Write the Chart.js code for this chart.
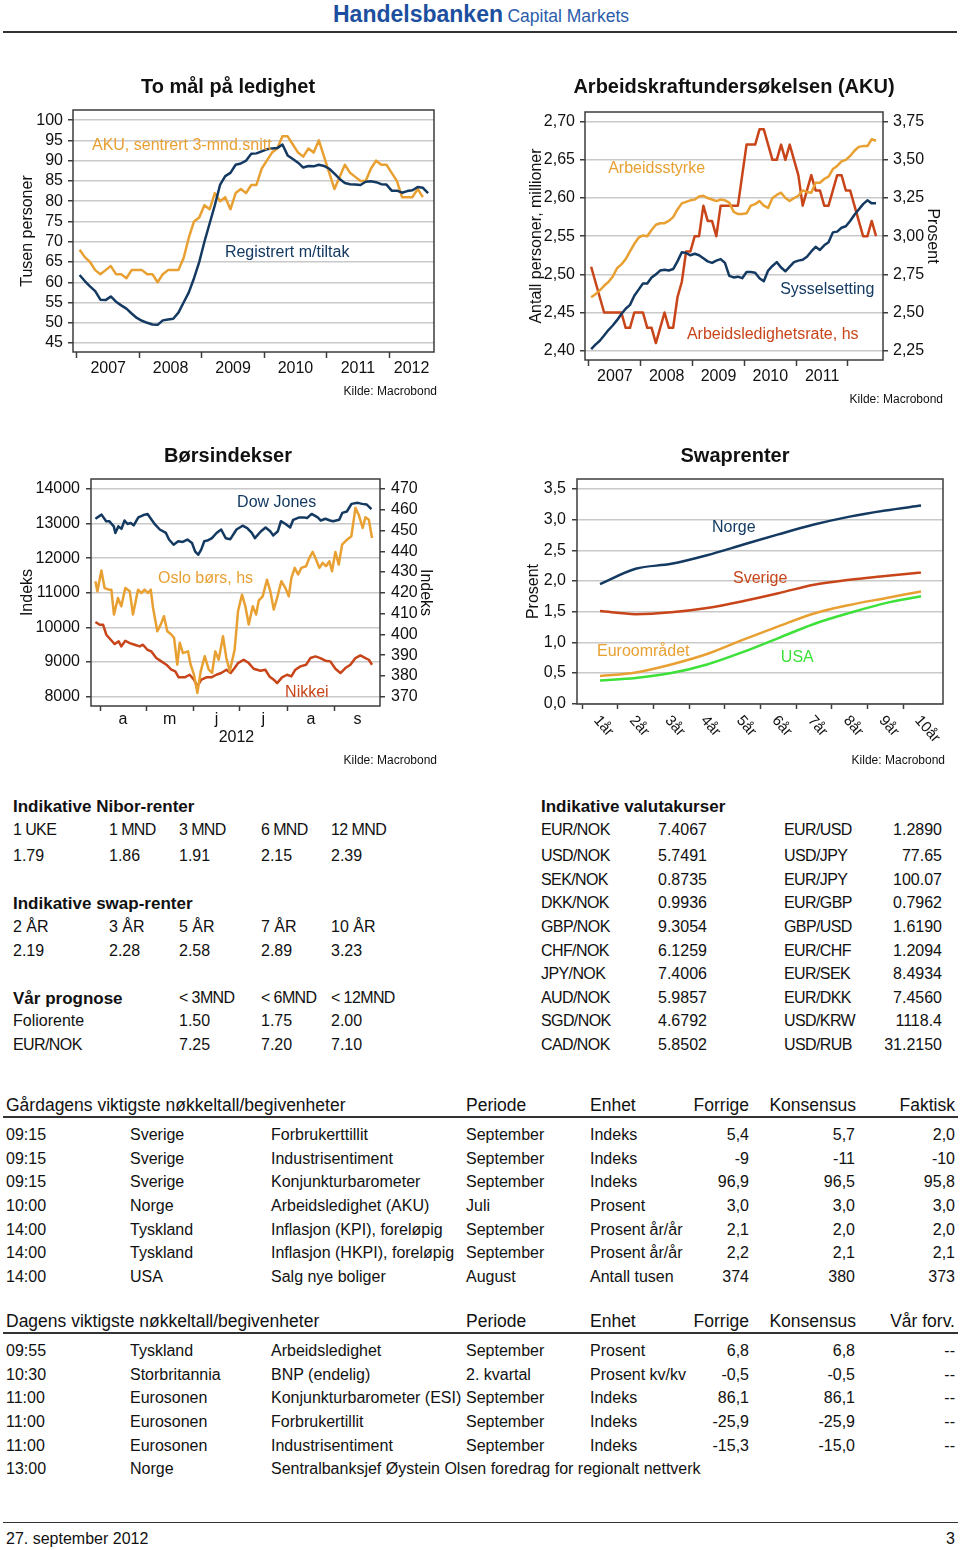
<!DOCTYPE html>
<html>
<head>
<meta charset="utf-8">
<script src="https://cdn.jsdelivr.net/npm/chart.js@4.4.1/dist/chart.umd.min.js"></script>
<style>
  html, body { margin: 0; padding: 0; background: #fff; }
  body { width: 960px; height: 1550px; position: relative; overflow: hidden;
         font-family: "Liberation Sans", Arial, sans-serif; color: #111; }
  .t { position: absolute; white-space: nowrap; line-height: 1; transform: translateY(-50%); }
  .r { transform: translate(-100%, -50%); }
  .c { transform: translate(-50%, -50%); }
  .hr { position: absolute; height: 0; }
  canvas { position: absolute; }
</style>
</head>
<body>
<canvas id="c1" width="480" height="330" style="left:0;top:80px"></canvas>
<canvas id="c2" width="480" height="330" style="left:480px;top:80px"></canvas>
<canvas id="c3" width="480" height="330" style="left:0;top:450px"></canvas>
<canvas id="c4" width="480" height="330" style="left:480px;top:450px"></canvas>

<script>
// ---- chart 1: To mål på ledighet (monthly from Jan 2007)
const registrert = [61.8, 60.3, 59, 57.8, 55.7, 55.6, 56.5, 55.2, 54.3, 53.5, 52.3, 51.2,
  50.5, 50, 49.6, 49.5, 50.6, 50.8, 51, 52.5, 55, 57.5, 61, 65,
  70, 74.5, 79, 84, 86.2, 87, 89, 89.3, 90, 91.7, 91.8, 92.3,
  92.8, 93, 93.1, 94, 91.3, 90.4, 89.5, 88.3, 88.7, 88.6, 89, 88.7,
  88, 86.8, 85.5, 84.5, 84.2, 84.1, 84, 84.8, 84.9, 84.7, 84.2, 84.1,
  82.6, 82.6, 82.1, 82.5, 82.7, 83.5, 83.3, 82];
const aku = [68, 66.2, 65, 63, 62, 63, 64, 62, 62, 61, 63, 63,
  63, 62, 62, 60, 62, 63, 63, 63, 66, 71, 75, 76,
  79, 78, 82, 80, 81, 78, 82, 83, 82, 84, 84, 88,
  90, 92, 93, 96, 96, 94, 92, 91, 93, 92, 95, 91,
  87, 83, 86, 89, 87, 86, 85, 85, 88, 90, 89, 89,
  87, 85, 81, 81, 81, 83, 81];
const yTicks1 = [45, 50, 55, 60, 65, 70, 75, 80, 85, 90, 95, 100];

// ---- chart 2: Arbeidskraftundersøkelsen (monthly from Jan 2007)
const arbeidsstyrke = [2.470, 2.474, 2.479, 2.485, 2.490, 2.497, 2.508, 2.513, 2.520, 2.530, 2.540, 2.548,
  2.551, 2.550, 2.558, 2.565, 2.567, 2.567, 2.570, 2.575, 2.585, 2.593, 2.595, 2.597,
  2.598, 2.602, 2.603, 2.600, 2.598, 2.596, 2.598, 2.597, 2.594, 2.582, 2.579, 2.579,
  2.580, 2.590, 2.592, 2.596, 2.590, 2.587, 2.600, 2.604, 2.607, 2.600, 2.596, 2.600,
  2.603, 2.610, 2.608, 2.607, 2.620, 2.620, 2.625, 2.628, 2.638, 2.642, 2.648, 2.650,
  2.655, 2.662, 2.667, 2.668, 2.668, 2.677, 2.675];
const sysselsetting = [2.402, 2.408, 2.413, 2.420, 2.427, 2.433, 2.440, 2.448, 2.455, 2.460, 2.472, 2.480,
  2.488, 2.488, 2.496, 2.500, 2.505, 2.506, 2.505, 2.507, 2.517, 2.529, 2.528, 2.525,
  2.527, 2.525, 2.521, 2.517, 2.515, 2.518, 2.520, 2.515, 2.498, 2.496, 2.497, 2.495,
  2.503, 2.503, 2.502, 2.495, 2.491, 2.505, 2.511, 2.516, 2.509, 2.504, 2.510, 2.516,
  2.518, 2.519, 2.523, 2.530, 2.536, 2.532, 2.538, 2.542, 2.555, 2.556, 2.561, 2.563,
  2.570, 2.578, 2.585, 2.592, 2.597, 2.593, 2.593];
const ledighetsrate = [2.8, 2.7, 2.6, 2.5, 2.5, 2.5, 2.5, 2.5, 2.4, 2.4, 2.5, 2.5,
  2.5, 2.4, 2.4, 2.3, 2.4, 2.5, 2.4, 2.4, 2.6, 2.7, 2.9, 2.9,
  3.0, 3.0, 3.2, 3.1, 3.1, 3.0, 3.2, 3.2, 3.2, 3.2, 3.2, 3.4,
  3.6, 3.6, 3.6, 3.7, 3.7, 3.6, 3.5, 3.5, 3.6, 3.5, 3.6, 3.5,
  3.4, 3.2, 3.3, 3.4, 3.3, 3.3, 3.2, 3.2, 3.3, 3.4, 3.4, 3.3,
  3.3, 3.2, 3.1, 3.0, 3.0, 3.1, 3.0];
const yTicks2 = [2.40, 2.45, 2.50, 2.55, 2.60, 2.65, 2.70];
const yTicks2r = [2.25, 2.50, 2.75, 3.00, 3.25, 3.50, 3.75];

// ---- chart 3: Børsindekser (days counted from 1 April 2012)
const djDays = [-3, 1, 4, 6, 9, 10, 12, 14, 16, 18, 20, 22, 25, 28, 31, 34, 36, 39, 43, 45,
  48, 51, 54, 57, 60, 62, 64, 66, 68, 70, 73, 76, 79, 82, 85, 89, 93, 96, 99, 101,
  105, 108, 111, 113, 116, 118, 121, 124, 126, 130, 133, 135, 138, 142, 144, 147, 150, 152, 156, 158,
  161, 164, 168, 171, 174, 177];
const djVals = [13140, 13260, 13070, 13070, 12920, 12730, 12920, 12850, 13090, 12990, 13020, 12950, 13180, 13240, 13280, 13090, 12970, 12830, 12730, 12540,
  12390, 12490, 12470, 12540, 12440, 12200, 12100, 12250, 12490, 12510, 12580, 12730, 12830, 12580, 12550, 12830, 12940, 12870, 12730, 12580,
  12780, 12890, 12780, 12660, 12780, 13070, 12990, 12890, 13110, 13180, 13180, 13160, 13280, 13180, 13090, 13140, 13090, 13070, 13110, 13310,
  13350, 13570, 13600, 13570, 13550, 13420];
const osloDays = [-3, -1.7, 0.9, 3, 5.7, 7.4, 9.1, 11.7, 13.9, 16.5, 19.4, 21.5, 24.8, 27, 29.1, 31.3, 33.1, 34.6, 37.4, 39.6,
  41.7, 43.9, 46.5, 48.3, 50.4, 52, 54.1, 57.4, 59.1, 61.3, 63.5, 65.7, 68.3, 70.9, 73.1, 75.2, 77.4, 80.2, 82.4, 84.6,
  87.8, 90, 92.6, 94.8, 97, 99.6, 101.8, 103.5, 106.1, 108.9, 111.1, 113.3, 115.5, 118.3, 120.9, 123.1, 124.8, 127, 129.2, 131.3,
  134.4, 136.5, 138.7, 140.5, 143.1, 145.2, 147.4, 149.6, 151.3, 153.5, 155.7, 157.9, 161.1, 163.9, 166.6, 168.7, 171.3, 173.1, 175.3, 177.4];
const osloVals = [425.6, 420.7, 430.7, 422.3, 421.5, 421.5, 409.5, 417.5, 413.5, 422.3, 420.7, 409.5, 421.5, 419.9, 421.5, 419.9, 421.5, 412.7, 401.5, 404.7,
  408.7, 401.5, 399.9, 398.3, 385.4, 395.9, 391, 391.8, 385.4, 380.6, 371.8, 382.2, 389.5, 383, 381.4, 391.8, 387.8, 399.1, 388.6, 382.2,
  392.6, 411.1, 419.1, 413.5, 404.7, 413.5, 409.5, 416.2, 418.3, 426.3, 420.7, 411.9, 417.5, 425.6, 422.3, 418.3, 427.1, 432, 428.8, 432,
  432.8, 436.8, 439.7, 436.8, 432, 434.4, 432.8, 435.2, 430.4, 439.7, 433.6, 443.2, 445.6, 447.2, 460.9, 457.6, 451.2, 456.4, 455.2, 446.4];
const nikkeiDays = [-3, -0.2, 2, 4.1, 7, 9.6, 12.2, 13.9, 16.5, 19.4, 22.6, 25.9, 28, 30.9, 33.5, 36.7, 40, 43.3, 46.5, 49.1,
  51.3, 55.2, 58.5, 61.3, 63.5, 66.1, 69.4, 72.6, 75.9, 79.1, 82.4, 85.2, 87.8, 90, 93.7, 97, 100.2, 104.6, 107.8, 110.5,
  113.3, 115.5, 118.7, 122, 124.8, 127.4, 130.7, 134.4, 137.2, 140.5, 143.7, 147, 150.2, 153.5, 156.8, 160, 163.3, 166.6, 169.8, 173.1,
  175.3, 177.4];
const nikkeiVals = [10156, 10079, 10079, 9790, 9645, 9520, 9597, 9453, 9616, 9549, 9501, 9453, 9501, 9356, 9308, 9116, 9020, 8923, 8779, 8730,
  8558, 8558, 8634, 8490, 8298, 8490, 8558, 8558, 8634, 8683, 8779, 8683, 8827, 8971, 9067, 8971, 8808, 8750, 8779, 8586,
  8490, 8393, 8558, 8634, 8586, 8779, 8875, 8923, 9116, 9164, 9116, 9039, 9020, 8808, 8683, 8827, 8923, 9116, 9193, 9116,
  9067, 8923];
const monthStarts = [0, 30, 61, 91, 122, 153];
const monthMids = [15, 45.5, 76, 106.5, 137.5, 168];
const monthLabels = ['a', 'm', 'j', 'j', 'a', 's'];
const yTicks3 = [8000, 9000, 10000, 11000, 12000, 13000, 14000];
const yTicks3r = [370, 380, 390, 400, 410, 420, 430, 440, 450, 460, 470];

// ---- chart 4: Swaprenter
const tenors = ['1år', '2år', '3år', '4år', '5år', '6år', '7år', '8år', '9år', '10år'];
const norge = [1.95, 2.20, 2.28, 2.42, 2.59, 2.76, 2.92, 3.05, 3.15, 3.23];
const sverige = [1.51, 1.46, 1.49, 1.56, 1.67, 1.80, 1.94, 2.02, 2.08, 2.14];
const euro = [0.45, 0.51, 0.64, 0.81, 1.04, 1.26, 1.47, 1.61, 1.72, 1.83];
const usa = [0.38, 0.42, 0.50, 0.64, 0.84, 1.07, 1.30, 1.48, 1.64, 1.75];
const yTicks4 = [0, 0.5, 1, 1.5, 2, 2.5, 3, 3.5];

// ---- tables
const niborHead = ['1 UKE', '1 MND', '3 MND', '6 MND', '12 MND'];
const niborVals = ['1.79', '1.86', '1.91', '2.15', '2.39'];
const swapHead = ['2 ÅR', '3 ÅR', '5 ÅR', '7 ÅR', '10 ÅR'];
const swapVals = ['2.19', '2.28', '2.58', '2.89', '3.23'];
const progHead = ['< 3MND', '< 6MND', '< 12MND'];
const progRows = [['Foliorente', '1.50', '1.75', '2.00'], ['EUR/NOK', '7.25', '7.20', '7.10']];
const fxRows = [
  ['EUR/NOK', '7.4067', 'EUR/USD', '1.2890'],
  ['USD/NOK', '5.7491', 'USD/JPY', '77.65'],
  ['SEK/NOK', '0.8735', 'EUR/JPY', '100.07'],
  ['DKK/NOK', '0.9936', 'EUR/GBP', '0.7962'],
  ['GBP/NOK', '9.3054', 'GBP/USD', '1.6190'],
  ['CHF/NOK', '6.1259', 'EUR/CHF', '1.2094'],
  ['JPY/NOK', '7.4006', 'EUR/SEK', '8.4934'],
  ['AUD/NOK', '5.9857', 'EUR/DKK', '7.4560'],
  ['SGD/NOK', '4.6792', 'USD/KRW', '1118.4'],
  ['CAD/NOK', '5.8502', 'USD/RUB', '31.2150']];
const eventsYesterday = [
  ['09:15', 'Sverige', 'Forbrukerttillit', 'September', 'Indeks', '5,4', '5,7', '2,0'],
  ['09:15', 'Sverige', 'Industrisentiment', 'September', 'Indeks', '-9', '-11', '-10'],
  ['09:15', 'Sverige', 'Konjunkturbarometer', 'September', 'Indeks', '96,9', '96,5', '95,8'],
  ['10:00', 'Norge', 'Arbeidsledighet (AKU)', 'Juli', 'Prosent', '3,0', '3,0', '3,0'],
  ['14:00', 'Tyskland', 'Inflasjon (KPI), foreløpig', 'September', 'Prosent år/år', '2,1', '2,0', '2,0'],
  ['14:00', 'Tyskland', 'Inflasjon (HKPI), foreløpig', 'September', 'Prosent år/år', '2,2', '2,1', '2,1'],
  ['14:00', 'USA', 'Salg nye boliger', 'August', 'Antall tusen', '374', '380', '373']];
const eventsToday = [
  ['09:55', 'Tyskland', 'Arbeidsledighet', 'September', 'Prosent', '6,8', '6,8', '--'],
  ['10:30', 'Storbritannia', 'BNP (endelig)', '2. kvartal', 'Prosent kv/kv', '-0,5', '-0,5', '--'],
  ['11:00', 'Eurosonen', 'Konjunkturbarometer (ESI)', 'September', 'Indeks', '86,1', '86,1', '--'],
  ['11:00', 'Eurosonen', 'Forbrukertillit', 'September', 'Indeks', '-25,9', '-25,9', '--'],
  ['11:00', 'Eurosonen', 'Industrisentiment', 'September', 'Indeks', '-15,3', '-15,0', '--'],
  ['13:00', 'Norge', 'Sentralbanksjef Øystein Olsen foredrag for regionalt nettverk']];

const FONT = '"Liberation Sans", Arial, sans-serif';
const NAVY = '#143a62', ORANGE = '#e9a032', RED = '#c8451a', GREEN = '#3ee03a';
const GRID = '#c9c9c9', FRAME = '#3c3c3c', INK = '#111';

Chart.defaults.font.family = FONT;
Chart.defaults.color = INK;

// ---------- helpers
function put(x, y, text, size, cls, style) {
  const d = document.createElement('div');
  d.className = 't ' + (cls || '');
  d.style.left = x + 'px';
  d.style.top = y + 'px';
  d.style.fontSize = size + 'px';
  if (style) Object.assign(d.style, style);
  d.textContent = text;
  document.body.appendChild(d);
}
function rule(x1, x2, y, w) {
  const d = document.createElement('div');
  d.className = 'hr';
  d.style.left = x1 + 'px';
  d.style.width = (x2 - x1) + 'px';
  d.style.top = y + 'px';
  d.style.borderTop = w + 'px solid #333';
  document.body.appendChild(d);
}
const monthPos = n => Array.from({ length: n }, (_, i) => 2007 + (i + 0.5) / 12);
const pts = (xs, ys) => ys.map((v, i) => ({ x: xs[i], y: v }));
const comma = d => v => v.toFixed(d).replace('.', ',');

function yAxis(o) {
  return {
    position: o.position || 'left',
    min: o.min, max: o.max,
    afterBuildTicks: s => { s.ticks = o.ticks.map(v => ({ value: v })); },
    afterFit: s => { s.width = o.width; },
    ticks: { autoSkip: false, font: { size: 16 }, color: INK, padding: o.pad,
             callback: o.fmt || (v => String(v)) },
    grid: { drawOnChartArea: o.grid !== false, color: GRID, lineWidth: 1.5,
            tickLength: 5, tickColor: FRAME, tickWidth: 1.5 },
    border: { display: false },
    title: { display: true, text: o.title, font: { size: 16 }, color: INK,
             padding: { top: o.titlePad, bottom: 0 } }
  };
}

// marks: tick-mark positions, labels: [{value, text}]
function xAxis(o) {
  const all = o.marks.map(v => ({ value: v, mark: true, text: '' }))
    .concat(o.labels.map(l => ({ value: l.value, mark: false, text: l.text })))
    .sort((a, b) => a.value - b.value);
  return {
    type: 'linear', min: o.min, max: o.max,
    afterBuildTicks: s => { s.ticks = all.map(a => ({ value: a.value })); },
    afterFit: s => { s.height = o.height; },
    ticks: { autoSkip: false, maxRotation: 0, minRotation: 0, padding: o.pad, color: INK,
             font: { size: 16, lineHeight: o.lh || 1 },
             callback: (v, i) => all[i] ? all[i].text : '' },
    grid: { drawOnChartArea: false, tickLength: o.tick, tickWidth: 1.5,
            tickColor: c => (all[c.index] && all[c.index].mark) ? FRAME : 'rgba(0,0,0,0)' },
    border: { display: false }
  };
}

function overlay(notes, extra) {
  return {
    id: 'overlay',
    afterDraw(chart) {
      const { ctx, chartArea: a, scales } = chart;
      ctx.save();
      ctx.strokeStyle = FRAME;
      ctx.lineWidth = 1.5;
      ctx.strokeRect(a.left, a.top, a.right - a.left, a.bottom - a.top);
      ctx.font = '16px ' + FONT;
      ctx.textAlign = 'left';
      ctx.textBaseline = 'middle';
      notes.forEach(n => {
        ctx.fillStyle = n.color;
        ctx.fillText(n.text, scales.x.getPixelForValue(n.x), scales.y.getPixelForValue(n.y));
      });
      if (extra) extra(chart);
      ctx.restore();
    }
  };
}

function baseOptions(padding, scales) {
  return {
    responsive: false, animation: false, devicePixelRatio: 1,
    layout: { padding },
    plugins: { legend: { display: false }, tooltip: { enabled: false } },
    elements: { point: { radius: 0 }, line: { borderWidth: 2.5, tension: 0, borderJoinStyle: 'round' } },
    scales
  };
}

// ---------- chart 1
const yearLabels1 = ['2007', '2008', '2009', '2010', '2011', '2012'];
new Chart(document.getElementById('c1'), {
  type: 'line',
  data: { datasets: [
    { data: pts(monthPos(registrert.length), registrert), borderColor: NAVY },
    { data: pts(monthPos(aku.length), aku), borderColor: ORANGE }
  ] },
  options: baseOptions({ top: 30, right: 46, left: 0, bottom: 0 }, {
    x: xAxis({ min: 2006.936, max: 2012.72, height: 58, tick: 6, pad: 3,
      marks: [2007, 2008, 2009, 2010, 2011, 2012],
      labels: yearLabels1.map((t, i) => ({ value: i < 5 ? 2007.5 + i : (2012 + 2012.72) / 2, text: t })) }),
    y: yAxis({ min: 42.8, max: 102.5, ticks: yTicks1, width: 73, pad: 5,
      title: 'Tusen personer', titlePad: 18.4 })
  }),
  plugins: [overlay([
    { text: 'AKU, sentrert 3-mnd.snitt', x: 2007.24, y: 93.8, color: ORANGE },
    { text: 'Registrert m/tiltak', x: 2009.37, y: 67.4, color: NAVY }
  ])]
});

// ---------- chart 2
const yearLabels2 = ['2007', '2008', '2009', '2010', '2011'];
new Chart(document.getElementById('c2'), {
  type: 'line',
  data: { datasets: [
    { data: pts(monthPos(sysselsetting.length), sysselsetting), borderColor: NAVY, yAxisID: 'y' },
    { data: pts(monthPos(arbeidsstyrke.length), arbeidsstyrke), borderColor: ORANGE, yAxisID: 'y' },
    { data: pts(monthPos(ledighetsrate.length), ledighetsrate), borderColor: RED, yAxisID: 'y2' }
  ] },
  options: baseOptions({ top: 32, right: 0, left: 0, bottom: 0 }, {
    x: xAxis({ min: 2006.923, max: 2012.676, height: 50, tick: 6, pad: 3,
      marks: [2007, 2008, 2009, 2010, 2011, 2012],
      labels: yearLabels2.map((t, i) => ({ value: 2007.5 + i, text: t })) }),
    y: yAxis({ min: 2.3878, max: 2.7127, ticks: yTicks2, width: 105, pad: 5, fmt: comma(2),
      title: 'Antall personer, millioner', titlePad: 47.4 }),
    y2: yAxis({ position: 'right', min: 2.189, max: 3.8135, ticks: yTicks2r, width: 77, pad: 5,
      fmt: comma(2), grid: false, title: 'Prosent', titlePad: 18.4 })
  }),
  plugins: [overlay([
    { text: 'Arbeidsstyrke', x: 2007.37, y: 2.638, color: ORANGE },
    { text: 'Sysselsetting', x: 2010.69, y: 2.4794, color: NAVY },
    { text: 'Arbeidsledighetsrate, hs', x: 2008.89, y: 2.4205, color: RED }
  ])]
});

// ---------- chart 3
new Chart(document.getElementById('c3'), {
  type: 'line',
  data: { datasets: [
    { data: pts(djDays, djVals), borderColor: NAVY, yAxisID: 'y' },
    { data: pts(osloDays, osloVals), borderColor: ORANGE, yAxisID: 'y2' },
    { data: pts(nikkeiDays, nikkeiVals), borderColor: RED, yAxisID: 'y' }
  ] },
  options: baseOptions({ top: 29, right: 0, left: 0, bottom: 0 }, {
    x: xAxis({ min: -5.87, max: 182.6, height: 74, tick: 5, pad: 0, lh: 1.1,
      marks: monthStarts,
      labels: monthMids.map((v, i) => ({ value: v, text: monthLabels[i] }))
        .concat([{ value: 89, text: ['', '2012'] }]) }),
    y: yAxis({ min: 7731, max: 14289, ticks: yTicks3, width: 91, pad: 6,
      title: 'Indeks', titlePad: 18.4 }),
    y2: yAxis({ position: 'right', min: 365.5, max: 474.8, ticks: yTicks3r, width: 100, pad: 6,
      grid: false, title: 'Indeks', titlePad: 45.4 })
  }),
  plugins: [overlay([
    { text: 'Dow Jones', x: 89.4, y: 13596, color: NAVY },
    { text: 'Oslo børs, hs', x: 37.8, y: 11400, color: ORANGE },
    { text: 'Nikkei', x: 120.7, y: 8108, color: RED }
  ])]
});

// ---------- chart 4
const tenorPos = tenors.map((t, i) => i + 1);
new Chart(document.getElementById('c4'), {
  type: 'line',
  data: { datasets: [
    { data: pts(tenorPos, norge), borderColor: NAVY },
    { data: pts(tenorPos, sverige), borderColor: RED },
    { data: pts(tenorPos, euro), borderColor: ORANGE },
    { data: pts(tenorPos, usa), borderColor: GREEN }
  ] },
  options: Object.assign(baseOptions({ top: 29, right: 17, left: 0, bottom: 0 }, {
    x: xAxis({ min: 0.355, max: 10.617, height: 76, tick: 5, pad: 0,
      marks: tenorPos.map(v => v - 0.5), labels: [] }),
    y: yAxis({ min: -0.005, max: 3.663, ticks: yTicks4, width: 97, pad: 6, fmt: comma(1),
      title: 'Prosent', titlePad: 44.4 })
  }), { datasets: { line: { cubicInterpolationMode: 'monotone' } } }),
  plugins: [overlay([
    { text: 'Norge', x: 4.14, y: 2.865, color: NAVY },
    { text: 'Sverige', x: 4.73, y: 2.035, color: RED },
    { text: 'Euroområdet', x: 0.916, y: 0.847, color: ORANGE },
    { text: 'USA', x: 6.07, y: 0.749, color: GREEN }
  ], chart => {
    const { ctx, chartArea: a, scales } = chart;
    ctx.font = '15px ' + FONT;
    ctx.fillStyle = INK;
    ctx.textAlign = 'left';
    ctx.textBaseline = 'top';
    tenors.forEach((t, i) => {
      ctx.save();
      ctx.translate(scales.x.getPixelForValue(tenorPos[i]) + 2, a.bottom + 9);
      ctx.rotate(Math.PI * 0.27);
      ctx.fillText(t, 0, 0);
      ctx.restore();
    });
  })]
});

// ---------- page text
const hdr = document.createElement('div');
hdr.className = 't';
hdr.style.left = '333px';
hdr.style.top = '14px';
hdr.style.color = '#1d4f9f';
hdr.innerHTML = '<b style="font-size:23px">Handelsbanken</b> <span style="font-size:17.5px;color:#2b5cab">Capital Markets</span>';
document.body.appendChild(hdr);
rule(3, 957, 31, 2);

const bold = { fontWeight: 'bold' };
put(228, 86, 'To mål på ledighet', 20, 'c', bold);
put(734, 86, 'Arbeidskraftundersøkelsen (AKU)', 20, 'c', bold);
put(228, 455, 'Børsindekser', 20, 'c', bold);
put(735, 455, 'Swaprenter', 20, 'c', bold);
put(437, 391, 'Kilde: Macrobond', 12, 'r');
put(943, 399, 'Kilde: Macrobond', 12, 'r');
put(437, 760, 'Kilde: Macrobond', 12, 'r');
put(945, 760, 'Kilde: Macrobond', 12, 'r');

// left tables
const cols5 = [13, 109, 179, 261, 331];
const tight = { letterSpacing: '-0.6px' };
put(13, 806, 'Indikative Nibor-renter', 17, '', bold);
niborHead.forEach((s, i) => put(cols5[i], 830, s, 16, '', tight));
niborVals.forEach((s, i) => put(cols5[i], 856, s, 16));
put(13, 903, 'Indikative swap-renter', 17, '', bold);
swapHead.forEach((s, i) => put(cols5[i], 927, s, 16));
swapVals.forEach((s, i) => put(cols5[i], 951, s, 16));
put(13, 998, 'Vår prognose', 17, '', bold);
progHead.forEach((s, i) => put(cols5[i + 2], 998, s, 16, '', tight));
progRows.forEach((r, j) => {
  put(13, 1021 + j * 24, r[0], 16, '', j === 1 ? tight : null);
  r.slice(1).forEach((s, i) => put(cols5[i + 2], 1021 + j * 24, s, 16));
});

// fx table
const fxY = [830, 856, 880, 903, 927, 951, 974, 998, 1021, 1045];
put(541, 806, 'Indikative valutakurser', 17, '', bold);
fxRows.forEach((r, j) => {
  put(541, fxY[j], r[0], 16, '', tight);
  put(658, fxY[j], r[1], 16);
  put(784, fxY[j], r[2], 16, '', tight);
  put(942, fxY[j], r[3], 16, 'r');
});

// event tables
function events(title, lastHead, rows, y0) {
  put(6, y0 + 1.5, title, 17.5);
  put(466, y0 + 1.5, 'Periode', 17.5);
  put(590, y0 + 1.5, 'Enhet', 17.5);
  put(749, y0 + 1.5, 'Forrige', 17.5, 'r');
  put(856, y0 + 1.5, 'Konsensus', 17.5, 'r');
  put(955, y0 + 1.5, lastHead, 17.5, 'r');
  rule(3, 958, y0 + 12, 2);
  const lx = [6, 130, 271, 466, 590], rx = [749, 855, 955];
  rows.forEach((r, j) => {
    const y = y0 + 31 + Math.round(j * 23.67);
    r.slice(0, 5).forEach((s, i) => put(lx[i], y, s, 16));
    r.slice(5).forEach((s, i) => put(rx[i], y, s, 16, 'r'));
  });
}
events('Gårdagens viktigste nøkkeltall/begivenheter', 'Faktisk', eventsYesterday, 1104);
events('Dagens viktigste nøkkeltall/begivenheter', 'Vår forv.', eventsToday, 1320);

rule(3, 958, 1522, 1.5);
put(6, 1539, '27. september 2012', 16);
put(955, 1539, '3', 16, 'r');
</script>
</body>
</html>
